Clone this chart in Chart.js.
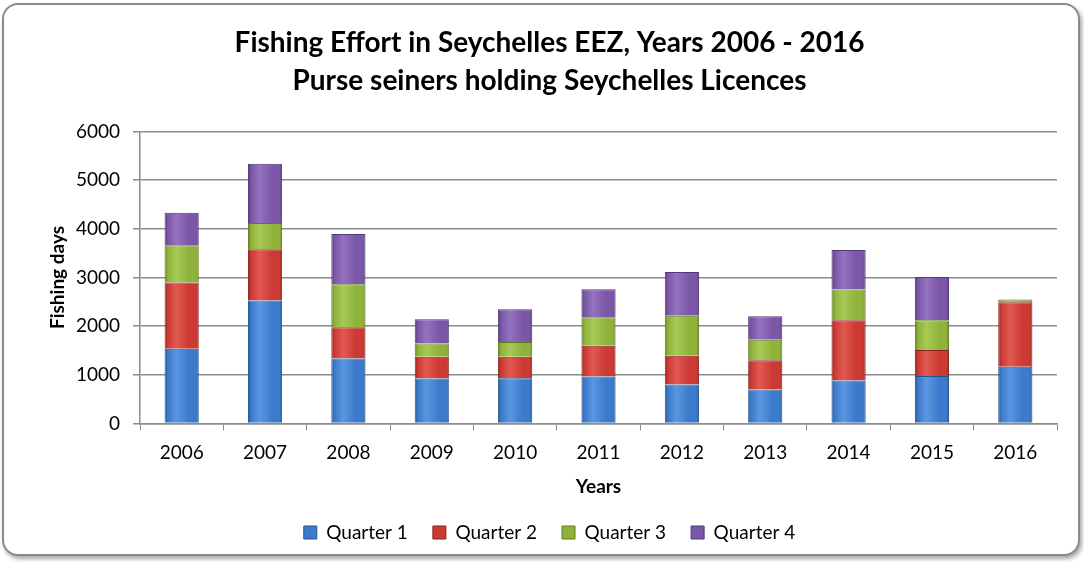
<!DOCTYPE html>
<html>
<head>
<meta charset="utf-8">
<script src="https://cdn.jsdelivr.net/npm/chart.js@4"></script>
<style>
  html, body { margin: 0; padding: 0; background: #fff; }
  #frame {
    position: absolute; left: 2px; top: 3px; width: 1074px; height: 549px;
    border: 2px solid #8a8a8a; border-radius: 16px;
    box-shadow: 2px 3px 4px rgba(0,0,0,0.35);
    background: #fff;
  }
  #wrap { position: absolute; left: 0; top: 0; width: 1084px; height: 562px; }
</style>
</head>
<body>
<div id="frame"></div>
<div id="wrap"><canvas id="myChart"></canvas></div>
<script>
  // data (fishing days)
  const years = ['2006', '2007', '2008', '2009', '2010', '2011', '2012', '2013', '2014', '2015', '2016'];
  const quarter1 = [1535, 2526, 1335, 922, 929, 964, 798, 695, 881, 977, 1163];
  const quarter2 = [1362, 1053, 640, 448, 441, 633, 592, 606, 1239, 530, 1328];
  const quarter3 = [764, 543, 888, 275, 302, 585, 826, 420, 633, 613, 55];
  const quarter4 = [668, 1219, 1032, 495, 675, 578, 895, 481, 812, 888, 0];
  const seriesNames = ['Quarter 1', 'Quarter 2', 'Quarter 3', 'Quarter 4'];

  const FONT = 'Lato, "Open Sans", sans-serif';

  // base / dark / light colours per quarter
  const palette = [
    { base: '#3c7bcb', dark: '#24528f', light: '#5b96e0' },
    { base: '#cc3a33', dark: '#8c2220', light: '#e05a52' },
    { base: '#8fb33a', dark: '#5e7a20', light: '#a8c957' },
    { base: '#7b57a8', dark: '#533677', light: '#9473c0' }
  ];

  // horizontal shading per bar so it looks a bit bevelled
  function barFill(i) {
    return ctx => {
      const c = palette[i];
      const chart = ctx.chart;
      if (ctx.type !== 'data' || !chart.scales.x) return c.base;
      const x = chart.scales.x.getPixelForValue(ctx.dataIndex);
      const half = 18;
      if (!isFinite(x)) return c.base;
      const g = chart.ctx.createLinearGradient(x - half, 0, x + half, 0);
      g.addColorStop(0, c.dark);
      g.addColorStop(0.12, c.base);
      g.addColorStop(0.35, c.light);
      g.addColorStop(0.7, c.base);
      g.addColorStop(0.9, c.base);
      g.addColorStop(1, c.dark);
      return g;
    };
  }

  const seriesData = [quarter1, quarter2, quarter3, quarter4];
  const datasets = seriesData.map((vals, i) => ({
    label: seriesNames[i],
    data: vals,
    backgroundColor: barFill(i),
    borderColor: palette[i].dark,
    borderWidth: 1,
    barPercentage: 0.41,
    categoryPercentage: 1
  }));

  const ctx = document.getElementById('myChart').getContext('2d');
  new Chart(ctx, {
    type: 'bar',
    data: { labels: years, datasets },
    options: {
      responsive: true,
      maintainAspectRatio: false,
      animation: false,
      layout: { padding: { left: 42, right: 27, top: 8, bottom: 10 } },
      scales: {
        x: {
          stacked: true,
          grid: { display: true, drawOnChartArea: false, color: '#8c8c8c', tickLength: 7, offset: true },
          border: { color: '#8c8c8c', width: 1.5 },
          ticks: { color: '#000', font: { family: FONT, size: 19 }, padding: 11 },
          title: { display: true, text: 'Years', color: '#000', font: { family: FONT, size: 19, weight: 'bold' }, padding: { top: 0, bottom: 0 } }
        },
        y: {
          stacked: true,
          min: 0, max: 6000,
          afterFit: s => { s.width = 98; },
          grid: { color: '#8c8c8c', lineWidth: 1.5, tickLength: 7 },
          border: { color: '#8c8c8c', width: 1.5 },
          ticks: { stepSize: 1000, color: '#000', font: { family: FONT, size: 19 }, padding: 13, callback: v => String(v) },
          title: { display: true, text: 'Fishing days', color: '#000', font: { family: FONT, size: 19, weight: 'bold' } }
        }
      },
      plugins: {
        title: {
          display: true,
          text: ['Fishing Effort in Seychelles EEZ, Years 2006 - 2016', 'Purse seiners holding Seychelles Licences'],
          color: '#000',
          font: { family: FONT, size: 28, weight: 'bold', lineHeight: 1.35 },
          padding: { top: 16, bottom: 32 }
        },
        legend: {
          position: 'bottom',
          labels: {
            color: '#000',
            font: { family: FONT, size: 19 },
            boxWidth: 13, boxHeight: 13,
            padding: 25,
            generateLabels: chart => chart.data.datasets.map((d, i) => ({
              text: d.label,
              fillStyle: palette[i].base,
              strokeStyle: palette[i].dark,
              lineWidth: 1,
              datasetIndex: i,
              hidden: false
            }))
          }
        },
        tooltip: { enabled: false }
      }
    }
  });
</script>
</body>
</html>
